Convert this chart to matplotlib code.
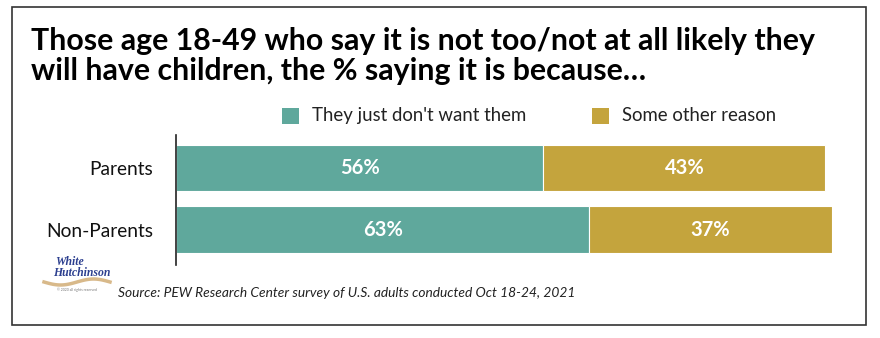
import matplotlib
matplotlib.use("Agg")
import matplotlib.pyplot as plt
from matplotlib.patches import Rectangle
import numpy as np

categories = ["Non-Parents", "Parents"]
dont_want = [63, 56]
other_reason = [37, 43]
series_names = ["They just don't want them", "Some other reason"]
colors = ["#5fa89c", "#c4a43d"]

title = "Those age 18-49 who say it is not too/not at all likely they\nwill have children, the % saying it is because\u2026"
source = "Source: PEW Research Center survey of U.S. adults conducted Oct 18-24, 2021"

plt.rcParams['font.family'] = ['Lato', 'DejaVu Sans']

W, H = 880, 338
fig = plt.figure(figsize=(W/100, H/100), dpi=100)

# outer frame
fig.patches.append(Rectangle((12/W, 1-325/H), (866-12)/W, (325-7)/H, transform=fig.transFigure,
                             fill=False, edgecolor="#333333", linewidth=1.2))

fig.text(31/W, 1-27/H, title, fontsize=21.8, fontweight='bold', va='top', ha='left',
         color='black', linespacing=1.07)

ax = fig.add_axes([176/W, 1-265/H, 656/W, 130/H])
y = [0, 1]
ax.barh(y, dont_want, height=0.75, color=colors[0], edgecolor='white', linewidth=0.8)
ax.barh(y, other_reason, left=dont_want, height=0.75, color=colors[1], edgecolor='white', linewidth=0.8)
for yi, a, b in zip(y, dont_want, other_reason):
    ax.text(a/2, yi, f"{a}%", ha='center', va='center', color='white', fontsize=14.5, fontweight='bold')
    ax.text(a + b/2, yi, f"{b}%", ha='center', va='center', color='white', fontsize=14.5, fontweight='bold')
ax.set_xlim(0, 100)
ax.set_ylim(-0.577, 1.537)
ax.set_yticks(y)
ax.set_yticklabels(categories, fontsize=13.8, color='#111111')
ax.tick_params(axis='y', length=0, pad=16.5)
ax.set_xticks([])
for s in ['top', 'right', 'bottom']:
    ax.spines[s].set_visible(False)
ax.spines['left'].set_linewidth(1.2)
ax.spines['left'].set_color('#222222')

# legend
leg_y = 1-115.5/H
for x0, name, c in [(282, series_names[0], colors[0]), (592, series_names[1], colors[1])]:
    fig.patches.append(Rectangle((x0/W, leg_y-8/H), 17/W, 16/H, transform=fig.transFigure,
                                 facecolor=c, edgecolor='none'))
    fig.text((x0+30)/W, leg_y, name, fontsize=13.4, va='center', ha='left', color='#222222')

# logo
fig.text(55/W, 1-262/H, "White", fontsize=8.5, fontstyle='italic', fontweight='bold',
         color='#2c3f8f', va='center', ha='left', family=['Liberation Serif'])
fig.text(53/W, 1-272.5/H, "Hutchinson", fontsize=8.5, fontstyle='italic', fontweight='bold',
         color='#2c3f8f', va='center', ha='left', family=['Liberation Serif'])
sx = np.linspace(44, 110, 40)
sy = 282 + 3*np.sin((sx-44)/66*2*np.pi)
fig.lines.append(plt.Line2D(sx/W, 1-sy/H, transform=fig.transFigure, color='#d8b98a', linewidth=2.5))
fig.text(77/W, 1-290/H, "\u00a9 2020 all rights reserved", fontsize=2.5, color='#777777',
         va='center', ha='center')

fig.text(118/W, 1-293/H, source, fontsize=9.9, fontstyle='italic', va='center', ha='left', color='#222222')

fig.savefig("out.png", dpi=100)
